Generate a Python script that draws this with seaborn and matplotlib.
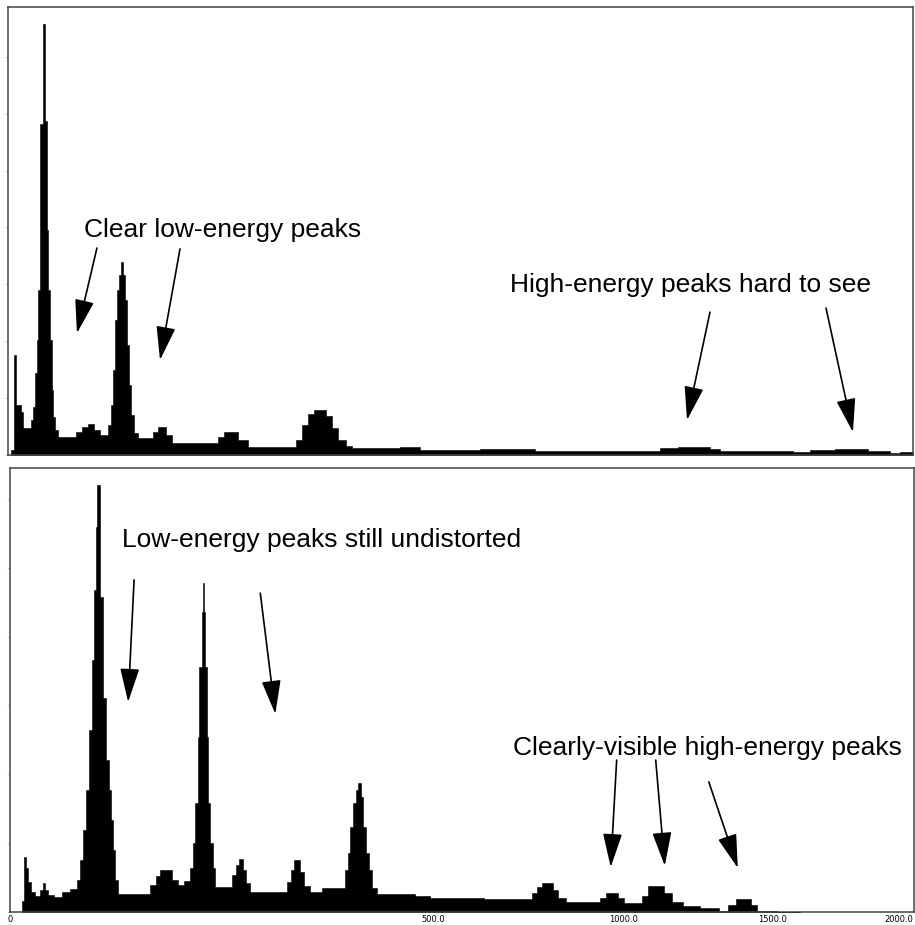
import numpy as np
import matplotlib
matplotlib.use("Agg")
import matplotlib.pyplot as plt
import seaborn as sns
from matplotlib.ticker import MultipleLocator, NullLocator

# Top panel: spectrum on a linear channel axis (bin edges in channels, counts per bin)
top_edges = [4, 7, 9, 15, 17, 26, 28, 31, 33, 34, 36, 40, 42, 44, 45, 48, 50, 51, 53, 57,
             77, 84, 91, 97, 104, 113, 117, 119, 121, 123, 126, 128, 130, 132, 135, 137, 139, 143, 147,
             164, 170, 179, 186, 238, 244, 260, 272, 326, 333, 340, 346, 360, 367, 373, 382, 389,
             444, 466, 534, 596, 738, 758, 794, 806, 888, 908, 936, 973, 998, 1009, 1024]
top_counts = [11, 223, 112, 96, 60, 78, 107, 183, 257, 368, 739, 962, 746, 502, 368, 257, 145, 85, 56,
              40, 51, 62, 69, 56, 45, 67, 112, 190, 301, 368, 402, 431, 402, 346, 246, 156, 89, 49,
              38, 51, 62, 45, 27, 40, 51, 33, 18, 33, 67, 92, 100, 87, 60, 33, 20,
              16, 18, 11, 14, 9, 16, 18, 13, 9, 7, 11, 13, 9, 4, 7]

# Bottom panel: spectrum on a compressed energy axis (bin edges in energy, counts per bin)
bottom_edges = [0.64, 0.86, 1.1, 1.37, 1.83, 2.53, 3.55, 4.25, 4.74, 5.53, 7.27, 9.94, 13.0, 16.0,
                17.3, 18.7, 20.2, 21.7, 23.3, 24.35,
                25.45, 26.0, 27.7, 29.5, 31.3, 33.1, 34.4, 35.6, 36.95, 38.95, 63.3, 68.4, 72.0, 83.1, 89.0,
                95.0, 101.2, 104.4, 106.5, 109.8, 110.9, 114.2, 115.3, 116.4, 117.5, 119.8, 120.9, 123.2,
                126.7, 129.1, 149.8,
                154.9, 158.7, 163.9, 167.9, 173.3, 226.5, 232.6, 237.3, 246.8, 253.2, 262.9,
                283.0, 323.3, 328.7, 332.4, 337.9, 343.4, 347.1, 352.7, 356.5, 362.2, 367.9, 373.6, 383.4,
                460.8, 493.1, 618.1, 740.4, 753.8, 767.1, 797.2, 810.8, 833.1, 930.9, 948.6, 984.6, 1002.9,
                1058.5, 1077.4, 1128.6, 1154.4, 1190.5, 1247.3, 1309.0, 1343.5, 1368.3, 1421.7, 1443.3,
                1516.4, 1603.7]
bottom_counts = [25, 124, 99, 68, 45, 36, 50, 65, 50, 38, 34, 45, 52, 72, 117, 185, 275, 410, 567, 725,
                 867, 962, 709, 482, 342, 275, 207, 140, 72, 41, 61, 81, 95, 72, 61,
                 70, 100, 155, 245, 394, 552, 676, 741, 676, 552, 394, 245, 155, 100, 56, 83,
                 106, 119, 95, 65, 45, 68, 95, 117, 90, 59, 45,
                 54, 95, 133, 191, 245, 275, 291, 260, 191, 133, 95, 55, 41,
                 36, 32, 29, 43, 56, 65, 50, 32, 23, 32, 43, 32, 20, 36, 59, 43, 23, 14, 9, 2, 16, 29,
                 16, 2, 1]

energy_ticks = [0, 500, 1000, 1500, 2000]
energy_labels = ['0', '500.0', '1000.0', '1500.0', '2000.0']

top_notes = ['Clear low-energy peaks', 'High-energy peaks hard to see']
bottom_notes = ['Low-energy peaks still undistorted', 'Clearly-visible high-energy peaks']

POWER = 0.535

sns.set_theme(style='white')
plt.rcParams['font.family'] = ['Liberation Sans', 'DejaVu Sans']


def draw_spectrum(ax, edges, counts):
    centers = [(a + b) / 2 for a, b in zip(edges[:-1], edges[1:])]
    sns.histplot(x=centers, weights=counts, bins=list(edges), element='step', fill=True,
                 color='black', alpha=1, edgecolor='black', linewidth=0.4, ax=ax)
    ax.set_ylim(0, 1000)
    ax.set_xlabel('')
    ax.set_ylabel('')
    for s in ax.spines.values():
        s.set_visible(True)
        s.set_color('#444444')
        s.set_linewidth(1.1)
    ax.tick_params(axis='y', left=True, direction='out', length=2.5, width=0.7,
                   color='#c8c8c8', labelleft=False)


def arrow(ax, start, tip):
    ax.annotate('', xy=tip, xytext=start, xycoords='axes fraction', textcoords='axes fraction',
                arrowprops=dict(arrowstyle='-|>,head_length=1.05,head_width=0.3', mutation_scale=20,
                                color='black', lw=1.2, shrinkA=0, shrinkB=0))


def note(ax, xy, text):
    ax.text(xy[0], xy[1], text, transform=ax.transAxes, ha='center', va='baseline',
            fontsize=19, color='black')


fig = plt.figure(figsize=(9.15, 9.25), dpi=100)
ax_top = fig.add_axes([0.0087, 0.5081, 0.9891, 0.4843])
ax_bot = fig.add_axes([0.0109, 0.0141, 0.9880, 0.4800])

# linear spectrum
draw_spectrum(ax_top, top_edges, top_counts)
ax_top.set_xlim(0, 1024)
ax_top.xaxis.set_major_locator(NullLocator())
ax_top.yaxis.set_major_locator(MultipleLocator(127))

note(ax_top, (0.2376, 0.487), top_notes[0])
arrow(ax_top, (0.0983, 0.462), (0.0762, 0.272))
arrow(ax_top, (0.1901, 0.460), (0.1680, 0.212))
note(ax_top, (0.7547, 0.364), top_notes[1])
arrow(ax_top, (0.7757, 0.319), (0.7503, 0.078))
arrow(ax_top, (0.9039, 0.328), (0.9337, 0.051))

# compressed-energy spectrum
draw_spectrum(ax_bot, bottom_edges, bottom_counts)
ax_bot.set_xscale('function', functions=(lambda e: np.power(np.clip(e, 0, None), POWER),
                                         lambda v: np.power(np.clip(v, 0, None), 1 / POWER)))
ax_bot.set_xlim(0, 2064)
ax_bot.set_xticks(energy_ticks, labels=energy_labels)
ax_bot.xaxis.set_minor_locator(NullLocator())
ax_bot.tick_params(axis='x', bottom=True, length=0, pad=2, labelsize=6, labelcolor='black')
for lab in ax_bot.get_xticklabels():
    lab.set_family('DejaVu Sans')
ax_bot.yaxis.set_major_locator(MultipleLocator(155))

note(ax_bot, (0.3444, 0.822), bottom_notes[0])
arrow(ax_bot, (0.1373, 0.748), (0.1307, 0.473))
arrow(ax_bot, (0.2769, 0.718), (0.2935, 0.446))
note(ax_bot, (0.7719, 0.353), bottom_notes[1])
arrow(ax_bot, (0.6711, 0.342), (0.6645, 0.101))
arrow(ax_bot, (0.7143, 0.342), (0.7243, 0.104))
arrow(ax_bot, (0.7730, 0.293), (0.8051, 0.099))

fig.savefig('out.png', dpi=100, facecolor='white')
